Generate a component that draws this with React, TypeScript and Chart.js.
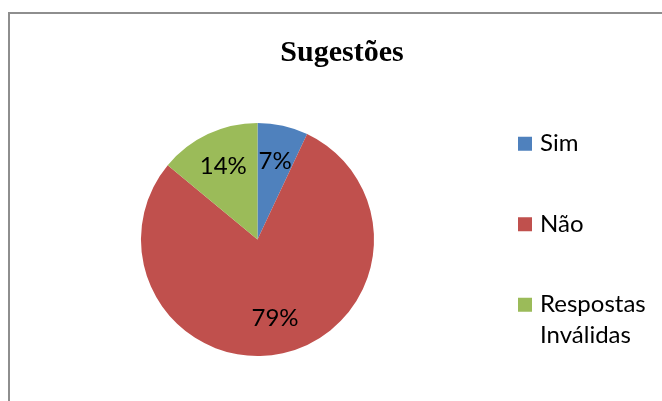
import React, { useEffect, useRef } from 'react';
import { Chart, registerables } from 'chart.js';

Chart.register(...registerables);

const chartTitle = 'Sugestões';
const categories = ['Sim', 'Não', 'Respostas Inválidas'];
const values = [7, 79, 14];
const sliceColors = ['#4F81BD', '#C0504D', '#9BBB59'];

const LABEL_FONT = '24px Lato';
const LEGEND_FONT = '24px Lato';
const TITLE_FONT = 'bold 30px "Liberation Serif"';

function wrapText(ctx: CanvasRenderingContext2D, text: string, maxW: number): string[] {
  const words = text.split(' ');
  const lines: string[] = [];
  let cur = '';
  for (const w of words) {
    const test = cur ? cur + ' ' + w : w;
    if (cur && ctx.measureText(test).width > maxW) {
      lines.push(cur);
      cur = w;
    } else {
      cur = test;
    }
  }
  if (cur) lines.push(cur);
  return lines;
}

const titlePlugin = {
  id: 'customTitle',
  afterDraw(chart: any) {
    const ctx = chart.ctx as CanvasRenderingContext2D;
    ctx.save();
    ctx.font = TITLE_FONT;
    ctx.fillStyle = '#000';
    ctx.textAlign = 'center';
    ctx.textBaseline = 'alphabetic';
    ctx.fillText(chartTitle, chart.width / 2, 47);
    ctx.restore();
  },
};

const sliceLabels = {
  id: 'sliceLabels',
  afterDatasetsDraw(chart: any) {
    const ctx = chart.ctx as CanvasRenderingContext2D;
    const meta = chart.getDatasetMeta(0);
    const data = chart.data.datasets[0].data as number[];
    const total = data.reduce((a, b) => a + b, 0);
    ctx.save();
    ctx.font = LABEL_FONT;
    ctx.fillStyle = '#000';
    ctx.textAlign = 'center';
    ctx.textBaseline = 'middle';
    meta.data.forEach((arc: any, i: number) => {
      const p = arc.getProps(['x', 'y', 'startAngle', 'endAngle', 'outerRadius'], true);
      const mid = (p.startAngle + p.endAngle) / 2;
      const r = p.outerRadius * 0.69;
      const txt = Math.round((data[i] / total) * 100) + '%';
      ctx.fillText(txt, p.x + Math.cos(mid) * r, p.y + Math.sin(mid) * r);
    });
    ctx.restore();
  },
};

const sideLegend = {
  id: 'sideLegend',
  afterDraw(chart: any) {
    const ctx = chart.ctx as CanvasRenderingContext2D;
    const area = chart.chartArea;
    const labels = chart.data.labels as string[];
    const bg = chart.data.datasets[0].backgroundColor as string[];
    ctx.save();
    ctx.font = LEGEND_FONT;
    const lines = labels.map((l) => wrapText(ctx, l, 118));
    const lineH = 30.5;
    const pitch = 80.5;
    const n = lines.length;
    const span = pitch * (n - 1) + (lines[n - 1].length - 1) * lineH;
    const cy = (area.top + area.bottom) / 2;
    const y0 = cy - span / 2;
    const boxX = area.right + 144;
    const box = 14;
    ctx.textAlign = 'left';
    ctx.textBaseline = 'middle';
    lines.forEach((ls, i) => {
      const y = y0 + i * pitch;
      ctx.fillStyle = bg[i];
      ctx.fillRect(boxX, y - box / 2, box, box);
      ctx.fillStyle = '#000';
      ls.forEach((t, j) => {
        ctx.fillText(t, boxX + 22, y + j * lineH);
      });
    });
    ctx.restore();
  },
};

export default function App() {
  const ref = useRef<HTMLCanvasElement>(null);
  useEffect(() => {
    if (!ref.current) return;
    const chart = new Chart(ref.current, {
      type: 'pie',
      data: {
        labels: categories,
        datasets: [
          {
            data: values,
            backgroundColor: sliceColors,
            borderWidth: 0,
          },
        ],
      },
      options: {
        responsive: false,
        animation: false,
        layout: { padding: { left: 131, right: 300, top: 109, bottom: 54 } },
        plugins: {
          legend: { display: false },
          title: { display: false },
          tooltip: { enabled: false },
        },
      },
      plugins: [sliceLabels, sideLegend, titlePlugin],
    });
    return () => chart.destroy();
  }, []);
  return (
    <div
      style={{
        position: 'absolute',
        left: 8,
        top: 12,
        width: 654,
        height: 389,
        overflow: 'hidden',
      }}
    >
      <div
        style={{
          width: 668,
          height: 400,
          border: '2px solid #8e8e8e',
          boxSizing: 'border-box',
          background: '#fff',
        }}
      >
        <canvas ref={ref} width={664} height={396} style={{ display: 'block' }} />
      </div>
    </div>
  );
}
